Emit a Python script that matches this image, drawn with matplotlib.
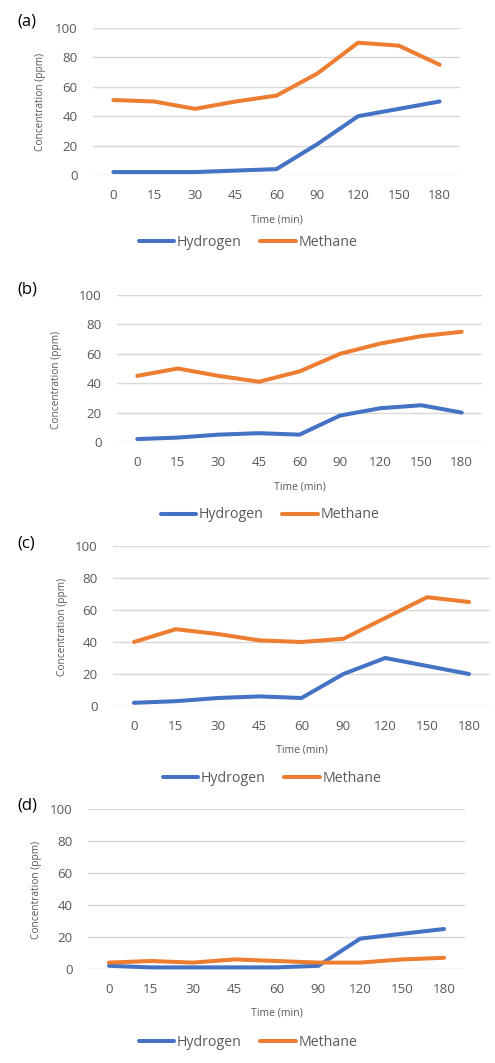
import matplotlib
matplotlib.use("Agg")
import matplotlib.pyplot as plt

# ---- data ----
times = ["0", "15", "30", "45", "60", "90", "120", "150", "180"]

h2_a = [2, 2, 2, 3, 4, 21, 40, 45, 50]
ch4_a = [51, 50, 45, 50, 54, 69, 90, 88, 75]

h2_b = [2, 3, 5, 6, 5, 18, 23, 25, 20]
ch4_b = [45, 50, 45, 41, 48, 60, 67, 72, 75]

h2_c = [2, 3, 5, 6, 5, 20, 30, 25, 20]
ch4_c = [40, 48, 45, 41, 40, 42, 55, 68, 65]

h2_d = [2, 1, 1, 1, 1, 2, 19, 22, 25]
ch4_d = [4, 5, 4, 6, 5, 4, 4, 6, 7]

panel_names = ["(a)", "(b)", "(c)", "(d)"]
h2_all = [h2_a, h2_b, h2_c, h2_d]
ch4_all = [ch4_a, ch4_b, ch4_c, ch4_d]

BLUE = "#4472C4"
ORANGE = "#ED7D31"
GRID = "#D9D9D9"
TXT = "#595959"

W, H = 495, 1063
plt.rcParams['font.family'] = ['Open Sans', 'DejaVu Sans']

fig = plt.figure(figsize=(W / 100, H / 100), dpi=100)

# pixel layout per panel: axes left, right, top, bottom, ylabel x, ylabel y,
# xlabel y, legend centre x, legend y, panel label y
layout = [
    (93, 460, 28, 175, 41, 102, 220, 248, 242, 22),
    (117, 482, 295, 442, 56, 380, 487, 270, 515, 289),
    (113, 490, 546, 706, 62, 627, 750, 272, 778, 543),
    (88, 465, 809, 969, 37, 890, 1013, 248, 1042, 805),
]


def fx(px):
    return px / W


def fy(py):
    return 1 - py / H


for name, h2, ch4, (l, r, t, b, ylx, yly, xly, lgx, lgy, ply) in zip(
        panel_names, h2_all, ch4_all, layout):
    ax = fig.add_axes([fx(l), fy(b), fx(r) - fx(l), fy(t) - fy(b)])
    x = range(len(times))
    ax.plot(x, h2, color=BLUE, lw=2.9, label="Hydrogen",
            solid_capstyle="round", clip_on=False, zorder=3)
    ax.plot(x, ch4, color=ORANGE, lw=2.9, label="Methane",
            solid_capstyle="round", clip_on=False, zorder=3)
    ax.set_xlim(-0.5, len(times) - 0.5)
    ax.set_ylim(0, 100)
    ax.set_yticks([0, 20, 40, 60, 80, 100])
    ax.set_xticks(list(x))
    ax.set_xticklabels(times)
    ax.grid(axis="y", color=GRID, lw=1)
    ax.set_axisbelow(True)
    for s in ax.spines.values():
        s.set_visible(False)
    ax.tick_params(axis="both", length=0, labelsize=9.6, colors=TXT)
    ax.tick_params(axis="x", pad=10)
    ax.tick_params(axis="y", pad=11)

    fig.text(fx((l + r) / 2), fy(xly), "Time (min)", ha="center",
             va="center", fontsize=7.6, color=TXT)
    fig.text(fx(ylx), fy(yly), "Concentration (ppm)", ha="center",
             va="center", rotation=90, fontsize=7.3, color=TXT)
    fig.text(fx(17), fy(ply), name, ha="left", va="center",
             fontsize=12, color="black")

    fig.legend(handles=ax.get_lines(), loc="center",
               bbox_to_anchor=(fx(lgx), fy(lgy)), ncol=2, frameon=False,
               fontsize=10.2, labelcolor=TXT, handlelength=2.5,
               handletextpad=0.2, columnspacing=1.3, borderpad=0)

fig.savefig("out.png", dpi=100, facecolor="white")
